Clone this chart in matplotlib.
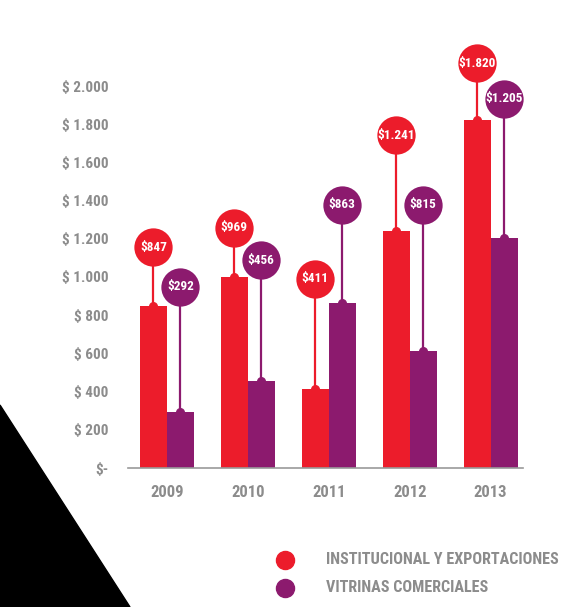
import matplotlib.pyplot as plt
import numpy as np
from matplotlib.patches import Polygon
from matplotlib.lines import Line2D

years = ['2009', '2010', '2011', '2012', '2013']
institucional = [847, 999, 411, 1241, 1820]
vitrinas = [292, 456, 863, 615, 1205]
inst_labels = ['$847', '$969', '$411', '$1.241', '$1.820']
vitr_labels = ['$292', '$456', '$863', '$815', '$1.205']
y_ticks = [0, 200, 400, 600, 800, 1000, 1200, 1400, 1600, 1800, 2000]
y_ticklabels = ['$-', '$ 200', '$ 400', '$ 600', '$ 800', '$ 1.000', '$ 1.200',
                '$ 1.400', '$ 1.600', '$ 1.800', '$ 2.000']
legend_names = ['INSTITUCIONAL Y EXPORTACIONES', 'VITRINAS COMERCIALES']

# where the label bubbles sit (layout only)
inst_bubble_y = [1157, 1257, 990, 1743, 2120]
vitr_bubble_y = [948, 1089, 1377, 1377, 1932]

RED = '#ec1c2b'
PURPLE = '#8c1a6e'
GRAY = '#8c8c8c'
FONT = ['Roboto Condensed', 'DejaVu Sans']

fig = plt.figure(figsize=(5.71, 6.07), dpi=100)
ax = fig.add_axes([128 / 571, (607 - 468) / 607, 395 / 571, 420.2 / 607])

x = np.arange(len(years))
w = 0.333
ax.bar(x - w / 2, institucional, w, color=RED, zorder=2)
ax.bar(x + w / 2, vitrinas, w, color=PURPLE, zorder=2)

for xs, vals, bys, labs, col in [(x - w / 2, institucional, inst_bubble_y, inst_labels, RED),
                                 (x + w / 2, vitrinas, vitr_bubble_y, vitr_labels, PURPLE)]:
    for xi, v, by, lab in zip(xs, vals, bys, labs):
        ax.plot([xi, xi], [v, by], color=col, lw=1.6, zorder=3, clip_on=False)
        ax.scatter([xi], [v], s=30, color=col, zorder=4, clip_on=False)
        ax.scatter([xi], [by], s=760, color=col, zorder=5, clip_on=False, linewidths=0)
        ax.text(xi, by, lab, color='white', ha='center', va='center', fontsize=9.5,
                fontweight='bold', family=FONT, zorder=6)

ax.set_xlim(-0.48, 4.4)
ax.set_ylim(0, 2200)
ax.set_xticks(x)
ax.set_xticklabels(years)
ax.set_yticks(y_ticks)
ax.set_yticklabels(y_ticklabels)
for s in ['top', 'right', 'left']:
    ax.spines[s].set_visible(False)
ax.spines['bottom'].set_color('#9a9a9a')
ax.spines['bottom'].set_linewidth(1.2)
ax.tick_params(length=0, labelcolor=GRAY)
ax.tick_params(axis='y', pad=14, labelsize=11)
ax.tick_params(axis='x', pad=12, labelsize=12)
for t in ax.get_xticklabels() + ax.get_yticklabels():
    t.set_family(FONT)
    t.set_fontweight('bold')

# legend
for i, (name, col) in enumerate(zip(legend_names, [RED, PURPLE])):
    yy = (607 - 560 - 28 * i) / 607
    fig.add_artist(Line2D([285 / 571], [yy], marker='o', markersize=13, color=col,
                          linestyle='none', transform=fig.transFigure))
    fig.text(326 / 571, yy, name, color=GRAY, fontsize=11.6, fontweight='bold',
             family=FONT, va='center', ha='left')

# black corner
fig.add_artist(Polygon([[0, 0], [0, (607 - 405) / 607], [130 / 571, 0]],
                       closed=True, color='black', transform=fig.transFigure))

fig.savefig('out.png', dpi=100)
